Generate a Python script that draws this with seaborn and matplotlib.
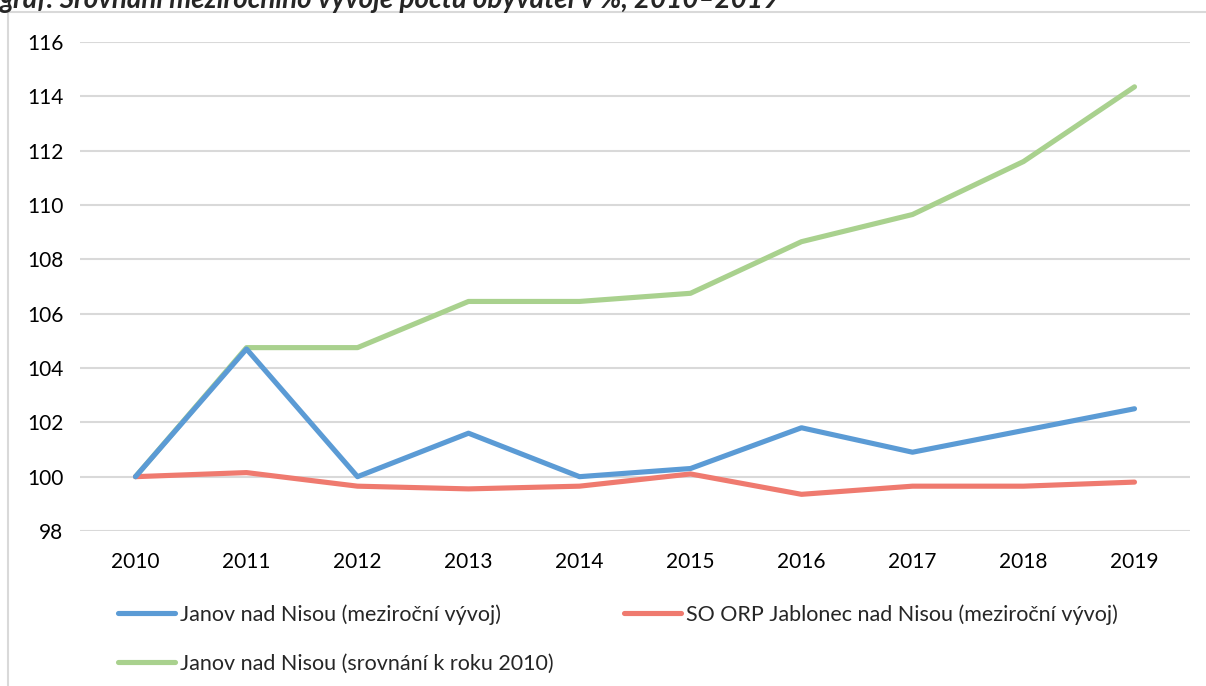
import pandas as pd
import seaborn as sns
import matplotlib.pyplot as plt
from matplotlib.patches import Rectangle

# Hodnoty
roky = [2010, 2011, 2012, 2013, 2014, 2015, 2016, 2017, 2018, 2019]
janov_mezirocni = [100, 104.7, 100.0, 101.6, 100.0, 100.3, 101.8, 100.9, 101.7, 102.5]
orp_mezirocni = [100, 100.15, 99.65, 99.55, 99.65, 100.1, 99.35, 99.65, 99.65, 99.8]
janov_2010 = [100, 104.75, 104.75, 106.45, 106.45, 106.75, 108.65, 109.65, 111.6, 114.35]

nazvy = ['Janov nad Nisou (meziroční vývoj)',
         'SO ORP Jablonec nad Nisou (meziroční vývoj)',
         'Janov nad Nisou (srovnání k roku 2010)']
barvy = ['#5B9BD5', '#EF7A6F', '#A9D18E']

df = pd.concat([
    pd.DataFrame({'rok': roky, 'hodnota': janov_mezirocni, 'rada': nazvy[0]}),
    pd.DataFrame({'rok': roky, 'hodnota': orp_mezirocni, 'rada': nazvy[1]}),
    pd.DataFrame({'rok': roky, 'hodnota': janov_2010, 'rada': nazvy[2]}),
])

sns.set_style('white')
plt.rcParams['font.family'] = ['Lato', 'DejaVu Sans']

fig = plt.figure(figsize=(12.06, 6.86), dpi=100)
ax = fig.add_axes([80 / 1206, 1 - 531 / 686, 1110 / 1206, 489 / 686])

# rámeček grafu
fig.patches.append(Rectangle((8 / 1206, -0.1), 1.2, 1 - 12 / 686 + 0.1,
                             transform=fig.transFigure, fill=False,
                             edgecolor='#D9D9D9', linewidth=1.5, zorder=0))

# pořadí vykreslení: zelená vespod, pak červená, modrá
sns.lineplot(data=df, x='rok', y='hodnota', hue='rada', hue_order=[nazvy[2], nazvy[1], nazvy[0]],
             palette=[barvy[2], barvy[1], barvy[0]], linewidth=3.7, ax=ax, legend=False,
             solid_capstyle='round')

ax.set_xlim(2009.5, 2019.5)
ax.set_ylim(98, 116)
ax.set_yticks(range(98, 117, 2))
ax.set_xticks(roky)
ax.grid(axis='y', color='#D9D9D9', linewidth=1.5)
ax.set_axisbelow(True)
for s in ax.spines.values():
    s.set_visible(False)
ax.tick_params(length=0, labelsize=15, colors='#000000', pad=12)
ax.tick_params(axis='x', pad=15)
ax.set_xlabel('')
ax.set_ylabel('')

# legenda
handles = [plt.Line2D([], [], color=barvy[i], linewidth=3.7, solid_capstyle='round') for i in (0, 2, 1)]
labels = [nazvy[i] for i in (0, 2, 1)]
fig.legend(handles, labels, ncol=2, loc='upper left', bbox_to_anchor=(118 / 1206, 1 - 604 / 686),
           frameon=False, fontsize=15.5, handlelength=2.65, handletextpad=0.23,
           columnspacing=3.27, labelspacing=1.34, borderaxespad=0, borderpad=0)

fig.text(0.0, 1 - 8 / 686, 'graf: Srovnání meziročního vývoje počtu obyvatel v %, 2010–2019',
         fontsize=20, fontweight='bold', fontstyle='italic', va='baseline', ha='left')

fig.savefig('out.png', dpi=100)
